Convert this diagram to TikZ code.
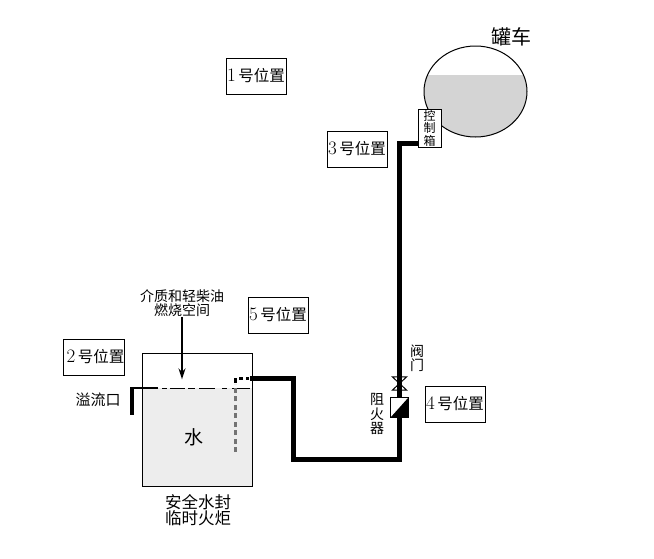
\documentclass[tikz,border=0pt]{standalone}
\usepackage{fontspec}
\usetikzlibrary{arrows.meta}
\newfontfamily\cjk{Noto Sans CJK SC}
\newcommand{\posnum}[1]{{\rmfamily\fontsize{19}{16}\selectfont #1}\,}
\tikzset{
	posbox/.style={draw,line width=1pt,fill=white,minimum width=60pt,minimum height=36pt,inner sep=0pt,font=\cjk\fontsize{15.5}{16}\selectfont},
	smalltext/.style={inner sep=0pt,align=center,font=\cjk\fontsize{14}{14.5}\selectfont},
	pipe/.style={line width=5pt,line join=miter}
}
\begin{document}
\begin{tikzpicture}[x=1pt,y=-1pt]
	\useasboundingbox (0,0) rectangle (654,558);
	% tank wagon
	\begin{scope}
		\clip (420,75) rectangle (530,140);
		\fill[black!17] (475.5,91.5) ellipse [x radius=51.5,y radius=45.5];
	\end{scope}
	\draw[line width=1pt] (475.5,91.5) ellipse [x radius=51.5,y radius=45.5];
	\node[font=\cjk\fontsize{20}{20}\selectfont,inner sep=0pt] (tanker) at (511.5,37) {罐车};
	\node[draw,line width=1pt,fill=white,minimum width=23pt,minimum height=38pt,inner sep=0pt,align=center,font=\cjk\fontsize{12}{12.5}\selectfont] (ctrl) at (429.5,128) {控\\制\\箱};
	% position boxes
	\node[posbox] (pos1) at (256,76) {\posnum{1}号位置};
	\node[posbox] (pos2) at (94,357) {\hspace{3pt}\posnum{2}号位置};
	\node[posbox] (pos3) at (357,149) {\posnum{3}号位置};
	\node[posbox] (pos4) at (455,404) {\posnum{4}号位置};
	\node[posbox] (pos5) at (278,315) {\posnum{5}号位置};
	% water seal
	\fill[black!7] (142,388) rectangle (252,486);
	\node[draw,line width=1pt,minimum width=110pt,minimum height=133pt,inner sep=0pt] (seal) at (197,419.5) {};
	\coordinate (sealin) at (250,378);
	\coordinate (dipbend) at (235,378);
	\coordinate (dipend) at (235,452);
	\coordinate (overflow) at (132,415);
	\coordinate (overflowtop) at (132,388);
	\coordinate (overflowin) at (158,388);
	\coordinate (levelstart) at (162,388);
	\coordinate (levelend) at (250,388);
	\draw[line width=1pt,dash pattern=on 5pt off 3pt on 15pt off 3pt on 7pt off 4pt on 16pt off 7pt on 5pt off 5pt on 18pt] (levelstart)--(levelend);
	\draw[line width=2pt] (overflowin)--(overflowtop);
	\draw[line width=3.5pt] (132,387)--(overflow);
	\draw[line width=3pt,black!55,dash pattern=on 5pt off 3.5pt] (dipend)--(235,384);
	\draw[line width=3pt,dash pattern=on 5pt off 4pt on 4pt off 3pt on 3pt off 30pt] (235,383)--(dipbend)--(sealin);
	\node[smalltext] (space) at (182,303) {介质和轻柴油\\燃烧空间};
	\node[inner sep=0pt] (level) at (182,380) {};
	\draw[line width=1.5pt,-{Stealth[length=11pt,width=7pt]}] (space)--(level);
	\node[font=\cjk\fontsize{19}{20}\selectfont,inner sep=0pt] (water) at (194,437) {水};
	\node[inner sep=0pt,font=\cjk\fontsize{15}{16}\selectfont] (spill) at (98,400) {溢流口};
	\node[inner sep=0pt,align=center,font=\cjk\fontsize{16.5}{16.5}\selectfont] (seallabel) at (198,510) {安全水封\\临时火炬};
	% valve and flame arrester
	\node[inner sep=0pt,minimum width=17pt,minimum height=19pt] (arrester) at (399.5,407.5) {};
	\node[inner sep=0pt,minimum width=14pt,minimum height=13pt] (valve) at (399.5,383.5) {};
	\coordinate (bendtop) at (399,143);
	\coordinate (bendbottom) at (399,459);
	\coordinate (bendleft) at (293,459);
	\coordinate (bendseal) at (293,378);
	\draw[pipe] (ctrl.west|-bendtop)--(bendtop)--(bendbottom)--(bendleft)--(bendseal)--(sealin);
	\draw[line width=1pt] (valve.north west)--(valve.north east)--(valve.south west)--(valve.south east)--cycle;
	\fill[white] (arrester.south west) rectangle (arrester.north east);
	\fill (arrester.south west)--(arrester.south east)--(arrester.north east)--cycle;
	\draw[line width=1pt] (arrester.south west) rectangle (arrester.north east);
	\node[smalltext] (valvelabel) at (417,358) {阀\\门};
	\node[smalltext] (arresterlabel) at (377,414) {阻\\火\\器};
\end{tikzpicture}
\end{document}
